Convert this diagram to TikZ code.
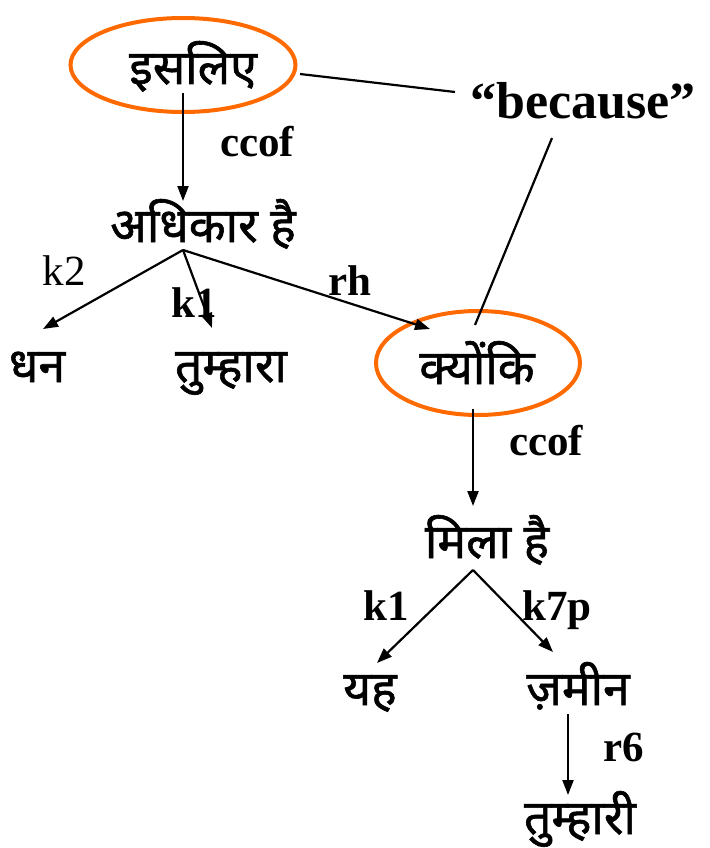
\documentclass[tikz,border=0pt]{standalone}
\usepackage{fontspec}
\setmainfont{Liberation Serif}
\newfontfamily\deva[Script=Devanagari, FakeBold=1.2]{Noto Sans}
\usetikzlibrary{arrows.meta,positioning,shapes.geometric}
\definecolor{ringorange}{HTML}{FF6A00}

\begin{document}
\begin{tikzpicture}[
  x=1pt, y=-1pt,
  word/.style={font=\deva\fontsize{48}{50}\selectfont, inner sep=0pt, anchor=base},
  rel/.style={font=\bfseries\fontsize{43}{45}\selectfont, inner sep=0pt, anchor=base},
  ring/.style={ellipse, draw=ringorange, line width=4pt, inner sep=0pt},
  edge/.style={->, line width=2.2pt},
  >={Triangle[length=15pt, width=11pt]},
]
  \useasboundingbox (0,0) rectangle (709,848);

  % words
  \node[word] (isliye) at (193,84) {इसलिए};
  \node[word] (adhikar) at (203,242) {अधिकार है};
  \node[word] (dhan) at (37,382) {धन};
  \node[word] (tumhara) at (231,382) {तुम्हारा};
  \node[word] (kyonki) at (477,384) {क्योंकि};
  \node[word] (mila) at (487,558) {मिला है};
  \node[word] (yah) at (370,705) {यह};
  \node[word] (zamin) at (578,705) {ज़मीन};
  \node[word] (tumhari) at (580,834) {तुम्हारी};

  % rings
  \node[ring, minimum width=225, minimum height=94] (isliyering) at (183,65) {};
  \node[ring, minimum width=204, minimum height=104] (kyonkiring) at (478,363) {};

  % gloss
  \node[font=\bfseries\fontsize{52}{54}\selectfont, inner sep=0pt, anchor=base] (because) at (583,118) {``because''};
  \coordinate (glossa) at (300,74);
  \coordinate (glossb) at (552,138);
  \coordinate (glossc) at (475,325);
  \draw[line width=2.2pt] (glossa) -- (455,92);
  \draw[line width=2.2pt] (glossb) -- (glossc);

  % dependencies
  \coordinate (adhikarfoot) at (183,250);
  \coordinate (milafoot) at (473,570);
  \draw[edge] (183,93) -- (183,201);
  \draw[edge] (adhikarfoot) -- (43,329);
  \draw[edge] (adhikarfoot) -- (212,328);
  \draw[edge] (adhikarfoot) -- (430,329);
  \draw[edge] (473,409) -- (473,506);
  \draw[edge] (milafoot) -- (377,663);
  \draw[edge] (milafoot) -- (553,652);
  \draw[edge] (568,714) -- (568,795);

  % relation labels
  \node[rel] (ccofa) at (257,157) {ccof};
  \node[font=\fontsize{43}{45}\selectfont, inner sep=0pt, anchor=base] (ktwo) at (64,285) {k2};
  \node[rel] (konea) at (194,317) {k1};
  \node[rel] (rh) at (350,295) {rh};
  \node[rel] (ccofb) at (546,455) {ccof};
  \node[rel] (koneb) at (386,620) {k1};
  \node[rel] (ksevenp) at (557,620) {k7p};
  \node[rel] (rsix) at (624,761) {r6};
\end{tikzpicture}
\end{document}
